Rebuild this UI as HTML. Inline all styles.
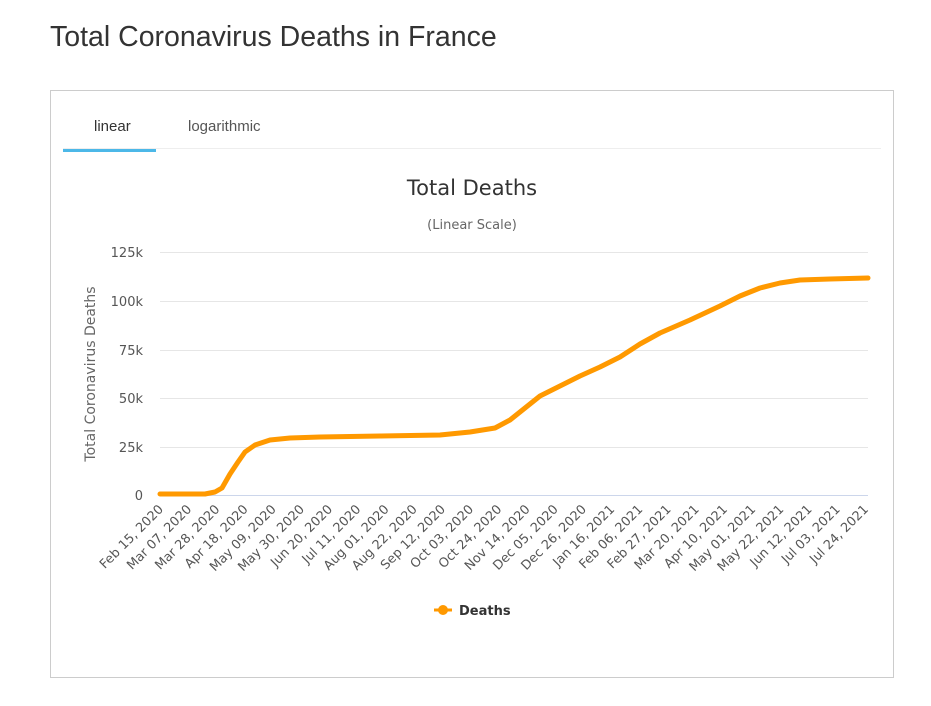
<!DOCTYPE html>
<html><head><style>
body{margin:0;background:#fff;font-family:"Liberation Sans",sans-serif;}
h1{position:absolute;left:50px;top:21px;margin:0;font-weight:normal;font-size:28.5px;color:#333;}
.box{position:absolute;left:50px;top:90px;width:842px;height:586px;border:1px solid #ccc;}
.tab{position:absolute;top:27px;font-size:15px;color:#555;}
</style></head><body>
<h1>Total Coronavirus Deaths in France</h1>
<div class="box">
<div class="tab" style="left:43px;color:#333">linear</div>
<div class="tab" style="left:137px">logarithmic</div>
<div style="position:absolute;left:12px;top:57px;width:818px;height:1px;background:#eee"></div>
<div style="position:absolute;left:12px;top:58px;width:93px;height:3px;background:#4cb8e8"></div>
</div>
<svg width="931" height="706" style="position:absolute;left:0;top:0" font-family="DejaVu Sans, sans-serif">
<text x="472" y="195" text-anchor="middle" font-size="21" fill="#333">Total Deaths</text>
<text x="472" y="229" text-anchor="middle" font-size="13" fill="#666">(Linear Scale)</text>
<g stroke="#e6e6e6" stroke-width="1">
<line x1="160" x2="868" y1="252.5" y2="252.5"/><line x1="160" x2="868" y1="301.5" y2="301.5"/>
<line x1="160" x2="868" y1="350.5" y2="350.5"/><line x1="160" x2="868" y1="398.5" y2="398.5"/>
<line x1="160" x2="868" y1="447.5" y2="447.5"/>
</g>
<line x1="160" x2="868" y1="495.5" y2="495.5" stroke="#ccd6eb"/>
<g font-size="13" fill="#555" text-anchor="end">
<text x="143" y="257">125k</text><text x="143" y="306">100k</text><text x="143" y="355">75k</text>
<text x="143" y="403">50k</text><text x="143" y="452">25k</text><text x="143" y="500">0</text>
</g>
<text transform="translate(95,374) rotate(-90)" text-anchor="middle" font-size="14" fill="#666">Total Coronavirus Deaths</text>
<polyline fill="none" stroke="#ff9900" stroke-width="5" stroke-linejoin="round" stroke-linecap="round" points="160,494 205,494 215,492 222,488 230,474 238,462 245,452 255,445 270,440 290,438 320,437 380,436 440,435 470,432 495,428 510,420 525,408 540,396 560,386 580,376 600,367 620,357 640,344 660,333 690,320 720,306 740,296 760,288 780,283 800,280 830,279 868,278"/>
<g font-size="12.8" fill="#555" text-anchor="end" id="xl"></g>
<line x1="434" x2="452" y1="610" y2="610" stroke="#ff9900" stroke-width="3"/>
<circle cx="443" cy="610" r="5" fill="#ff9900"/>
<text x="459" y="615" font-size="13" font-weight="bold" fill="#333">Deaths</text>
</svg>
<script>
var l=["Feb 15, 2020","Mar 07, 2020","Mar 28, 2020","Apr 18, 2020","May 09, 2020","May 30, 2020","Jun 20, 2020","Jul 11, 2020","Aug 01, 2020","Aug 22, 2020","Sep 12, 2020","Oct 03, 2020","Oct 24, 2020","Nov 14, 2020","Dec 05, 2020","Dec 26, 2020","Jan 16, 2021","Feb 06, 2021","Feb 27, 2021","Mar 20, 2021","Apr 10, 2021","May 01, 2021","May 22, 2021","Jun 12, 2021","Jul 03, 2021","Jul 24, 2021"];
var g=document.getElementById("xl"),s="";
for(var i=0;i<l.length;i++){var x=164+i*28.2,y=510;s+='<text transform="translate('+x+','+y+') rotate(-45)">'+l[i]+'</text>';}
g.innerHTML=s;
</script>
</body></html>
